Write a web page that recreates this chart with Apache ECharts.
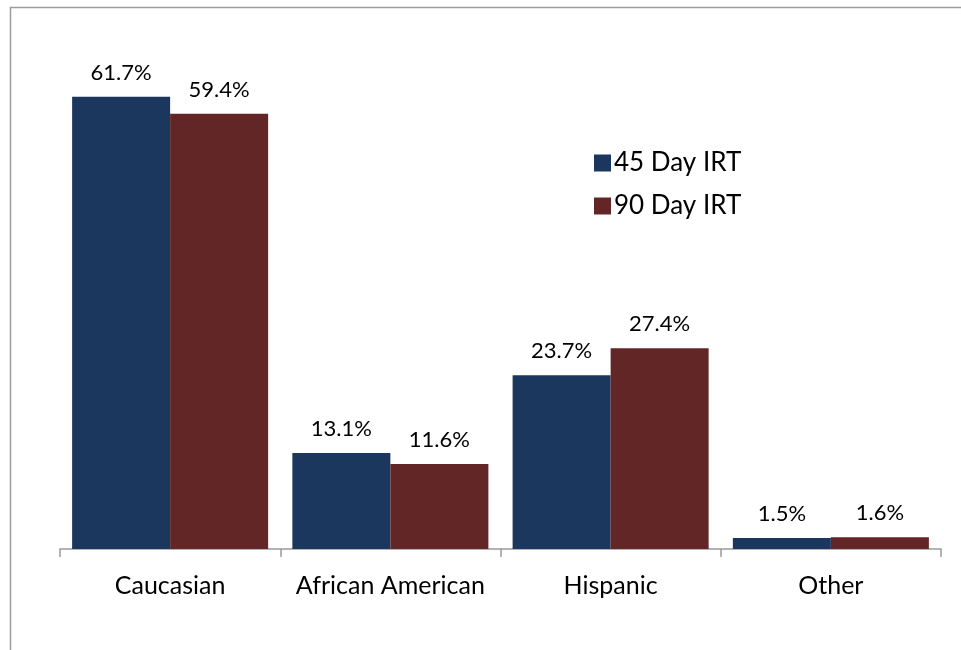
<!DOCTYPE html>
<html>
<head>
<meta charset="utf-8">
<script src="https://cdn.jsdelivr.net/npm/echarts@6/dist/echarts.min.js"></script>
<style>
  html, body { margin: 0; padding: 0; background: #fff; }
</style>
</head>
<body>
<div id="chart" style="width:961px;height:650px"></div>
<script>
var categories = ['Caucasian', 'African American', 'Hispanic', 'Other'];
var day45 = [61.7, 13.1, 23.7, 1.5];
var day90 = [59.4, 11.6, 27.4, 1.6];
var seriesNames = ['45 Day IRT', '90 Day IRT'];

var chart = echarts.init(document.getElementById('chart'));
var font = 'Lato, "Open Sans", sans-serif';

var labelStyle = {
  show: true,
  position: 'top',
  distance: 13,
  color: '#000',
  fontSize: 22,
  fontFamily: font,
  formatter: function (p) { return p.value.toFixed(1) + '%'; }
};

chart.setOption({
  animation: false,
  color: ['#1b375e', '#632627'],
  graphic: [{
    type: 'rect',
    shape: { x: 10.5, y: 7.5, width: 1000, height: 700 },
    style: { fill: 'none', stroke: '#9c9c9c', lineWidth: 1.5 },
    silent: true
  }],
  legend: {
    orient: 'vertical',
    left: 589,
    top: 145,
    itemWidth: 17,
    itemHeight: 17,
    itemGap: 17,
    icon: 'rect',
    textStyle: { fontSize: 26, color: '#000', fontFamily: font, padding: [0, 0, 0, -2] },
    data: seriesNames
  },
  grid: { left: 60, right: 20, top: 36, bottom: 101 },
  xAxis: {
    type: 'category',
    data: categories,
    axisLine: { lineStyle: { color: '#9a9a9a', width: 1.5 } },
    axisTick: { show: true, interval: 0, length: 8, lineStyle: { color: '#9a9a9a', width: 1.5 } },
    axisLabel: { interval: 0, hideOverlap: false, color: '#000', fontSize: 25, fontFamily: font, margin: 24 }
  },
  yAxis: {
    type: 'value',
    min: 0,
    max: 70,
    show: false,
    splitLine: { show: false }
  },
  series: [{
    name: seriesNames[0],
    type: 'bar',
    data: day45,
    barGap: '0%',
    barCategoryGap: '11%',
    label: labelStyle
  }, {
    name: seriesNames[1],
    type: 'bar',
    data: day90,
    barGap: '0%',
    barCategoryGap: '11%',
    label: labelStyle
  }]
});
</script>
</body>
</html>
